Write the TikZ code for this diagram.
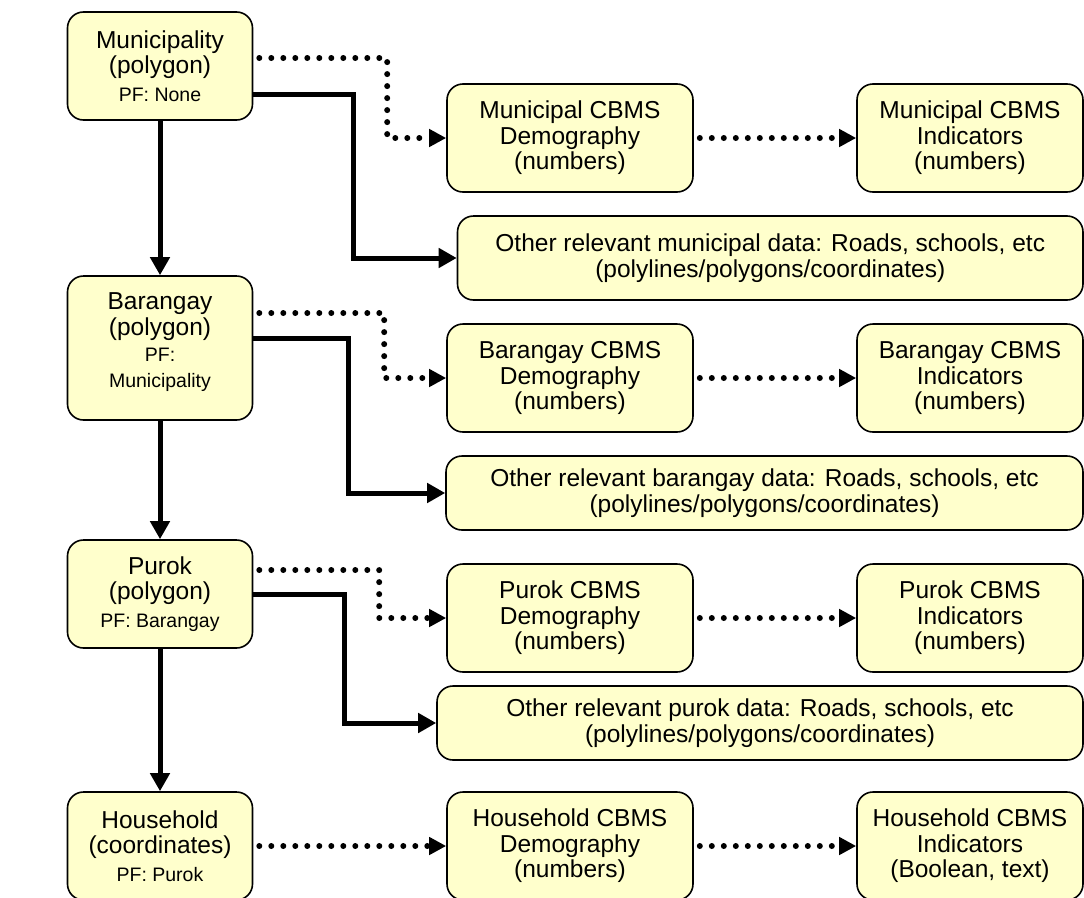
\documentclass[tikz,border=0pt]{standalone}
\usepackage{fontspec}
\setmainfont{Liberation Sans}
\usetikzlibrary{arrows.meta}
\definecolor{boxfill}{HTML}{FFFFCC}
\begin{document}
\begin{tikzpicture}[x=1pt,y=-1pt,
  box/.style={draw=black, line width=1.6pt, fill=boxfill, rounded corners=16pt,
    align=center, inner sep=0pt, font=\fontsize{24.5}{25.5}\selectfont},
  leftbox/.style={box, minimum width=185pt},
  midbox/.style={box, minimum width=246pt, minimum height=108pt},
  rightbox/.style={box, minimum width=226pt, minimum height=108pt},
  solidarrow/.style={line width=5pt, -{Triangle[length=18pt,width=19pt]}},
  dotarrow/.style={line width=6pt, line cap=round, dash pattern=on 0pt off 12pt,
    -{Triangle[length=17pt,width=17pt]}}
]
\useasboundingbox (0,0) rectangle (1084,897);

% left column
\node[leftbox, minimum height=108pt] (mun) at (160,66)
  {Municipality\\(polygon)\\[2pt]{\fontsize{19.5}{22}\selectfont PF: None}};
\node[leftbox, minimum height=144pt] (bar) at (160,348)
  {Barangay\\(polygon)\\[1pt]{\fontsize{19.5}{22}\selectfont PF:}\\{\fontsize{19.5}{22}\selectfont Municipality}\\[-10pt]};
\node[leftbox, minimum height=108pt] (pur) at (160,594)
  {Purok\\(polygon)\\[2pt]{\fontsize{19.5}{22}\selectfont PF: Barangay}};
\node[leftbox, minimum height=108pt] (hh) at (160,846)
  {Household\\(coordinates)\\[2pt]{\fontsize{19.5}{22}\selectfont PF: Purok}};

% demography column
\node[midbox] (mdemo) at (570,138) {Municipal CBMS\\Demography\\(numbers)};
\node[midbox] (bdemo) at (570,378) {Barangay CBMS\\Demography\\(numbers)};
\node[midbox] (pdemo) at (570,618) {Purok CBMS\\Demography\\(numbers)};
\node[midbox] (hdemo) at (570,846) {Household CBMS\\Demography\\(numbers)};

% indicators column
\node[rightbox] (mind) at (970,138) {Municipal CBMS\\Indicators\\(numbers)};
\node[rightbox] (bind) at (970,378) {Barangay CBMS\\Indicators\\(numbers)};
\node[rightbox] (pind) at (970,618) {Purok CBMS\\Indicators\\(numbers)};
\node[rightbox] (hind) at (970,846) {Household CBMS\\Indicators\\(Boolean, text)};

% other data boxes
\node[box, minimum width=625.5pt, minimum height=84pt] (moth) at (770.25,258)
  {Other relevant municipal data: Roads, schools, etc\\(polylines/polygons/coordinates)};
\node[box, minimum width=637pt, minimum height=74pt] (both) at (764.5,493)
  {Other relevant barangay data: Roads, schools, etc\\(polylines/polygons/coordinates)};
\node[box, minimum width=646pt, minimum height=74pt] (poth) at (760,723)
  {Other relevant purok data: Roads, schools, etc\\(polylines/polygons/coordinates)};

% vertical hierarchy
\draw[solidarrow] (mun.south) -- (bar.north);
\draw[solidarrow] (bar.south) -- (pur.north);
\draw[solidarrow] (pur.south) -- (hh.north);

% municipality
\draw[dotarrow] ([xshift=6pt,yshift=8pt]mun.east) -| ([xshift=-59pt]mdemo.west) -- (mdemo.west);
\draw[solidarrow] ([yshift=-28pt]mun.east) -| ([xshift=-103.5pt]moth.west) -- (moth.west);
\draw[dotarrow] ([xshift=6pt]mdemo.east) -- (mind.west);

% barangay
\draw[dotarrow] ([xshift=6pt,yshift=35pt]bar.east) -| ([xshift=-62pt]bdemo.west) -- (bdemo.west);
\draw[solidarrow] ([yshift=10pt]bar.east) -| ([xshift=-97pt]both.west) -- (both.west);
\draw[dotarrow] ([xshift=6pt]bdemo.east) -- (bind.west);

% purok
\draw[dotarrow] ([xshift=6pt,yshift=24pt]pur.east) -| ([xshift=-67pt]pdemo.west) -- (pdemo.west);
\draw[solidarrow] (pur.east) -| ([xshift=-92pt]poth.west) -- (poth.west);
\draw[dotarrow] ([xshift=6pt]pdemo.east) -- (pind.west);

% household
\draw[dotarrow] ([xshift=6pt]hh.east) -- (hdemo.west);
\draw[dotarrow] ([xshift=6pt]hdemo.east) -- (hind.west);
\end{tikzpicture}
\end{document}
